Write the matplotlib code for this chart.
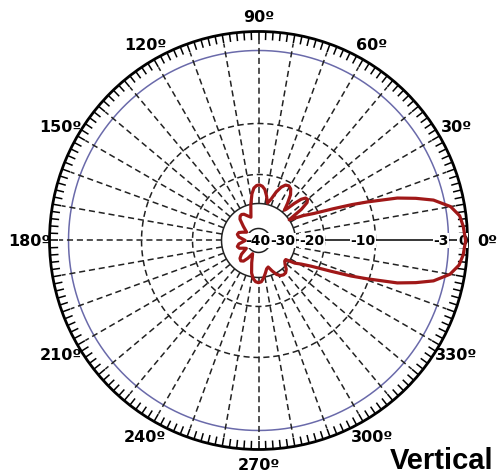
import matplotlib
matplotlib.use("Agg")
import matplotlib.pyplot as plt
import numpy as np

# radial scale of the chart: dB value -> radius (pixels on the original)
RING_DB = [-45, -40, -30, -20, -10, -3, 0, 5]
RING_R = [0, 12, 37, 66, 117, 190, 209, 240]

RTICKS = [-40, -30, -20, -10, -3, 0]
RLABELS = ["-40", "-30", "-20", "-10", "-3", "0"]

ANGLE_TICKS = list(range(0, 360, 30))
ANGLE_LABELS = [f"{a}º" for a in ANGLE_TICKS]

# vertical radiation pattern (degrees, dB)
pattern_deg = [0, 4, 7, 10, 13, 15, 17, 19.5, 21, 23, 26, 29, 32, 34,
               36, 38, 40, 42, 44, 46, 48, 49.5,
               52, 55, 58, 61, 64, 67, 70, 73, 76.5,
               80, 83, 86, 89, 92, 95, 98, 102, 108,
               114, 119, 123, 127, 131, 137, 145,
               153, 158, 164, 170, 175, 180,
               185, 190, 196, 202, 207, 213,
               219, 224, 229, 234, 239, 246,
               253, 258, 262, 266, 270, 274, 278, 282, 286, 290,
               294, 298, 302, 306, 310, 314, 318, 322, 325,
               328, 331, 334, 337, 339, 340.5, 343, 345, 347, 350, 353, 356, 360]
pattern_db = [-0.3, -0.6, -1.0, -2.2, -4.0, -5.6, -7.3, -10.3, -13.3, -17.0, -21.5, -25.0, -28.5, -30.0,
              -24.5, -21.5, -20.7, -20.9, -22.3, -25.0, -28.0, -29.0,
              -26.5, -23.5, -21.8, -21.2, -21.5, -22.8, -25.0, -27.8, -29.5,
              -27.0, -25.0, -24.0, -23.6, -23.8, -24.6, -26.5, -30.0, -35.0,
              -34.0, -32.8, -32.4, -32.6, -33.5, -36.5, -39.0,
              -37.5, -36.3, -36.0, -36.8, -38.5, -39.5,
              -38.5, -36.8, -36.0, -36.5, -38.0, -39.0,
              -36.0, -34.5, -34.0, -34.6, -36.5, -39.0,
              -35.5, -31.5, -29.5, -28.5, -28.2, -28.5, -29.8, -31.5, -33.0, -33.5,
              -31.5, -29.5, -28.5, -28.1, -28.2, -29.0, -30.5, -31.5, -31.5,
              -28.0, -26.0, -22.5, -17.5, -13.5, -10.5, -7.3, -5.6, -4.0, -2.3, -1.1, -0.6, -0.3]


def to_r(db):
    return np.interp(db, RING_DB, RING_R)


def to_db(r):
    return np.interp(r, RING_R, RING_DB)


fig = plt.figure(figsize=(4.98, 4.77), dpi=100)
ax = fig.add_axes([0.0994, 0.0556, 0.8394, 0.8763], projection="polar")
ax.set_rscale("function", functions=(to_r, to_db))
ax.set_rlim(-45, 0)
ax.grid(False)
ax.set_yticks([])
ax.set_xticks([])
ax.spines["polar"].set_linewidth(2)

# tick marks every 2 degrees on the inside of the rim
for a in range(0, 360, 2):
    ax.plot([np.radians(a)] * 2, [to_db(200.5), 0], color="black", lw=1.1,
            solid_capstyle="butt")

# angle labels, a bit farther out where the text is wide
for a, lab in zip(ANGLE_TICKS, ANGLE_LABELS):
    rpix = 224 + 5 * abs(np.cos(np.radians(a)))
    ax.text(np.radians(a), to_db(rpix), lab, ha="center", va="center",
            fontsize=11.5, fontweight="bold", clip_on=False)

full = np.linspace(0, 2 * np.pi, 361)
dash = (0, (4, 2.5))
ax.plot(full, np.full(361, -40.0), color="#222222", lw=1.1)
ax.plot(full, np.full(361, -30.0), color="#222222", lw=1.1)
ax.plot(full, np.full(361, -20.0), color="#222222", lw=1.1, ls=dash)
ax.plot(full, np.full(361, -10.0), color="#222222", lw=1.1, ls=dash)
ax.plot(full, np.full(361, -3.0), color="#6a6aaa", lw=1.1)

for a in range(10, 360, 10):
    ax.plot([np.radians(a)] * 2, [-30, to_db(200)], color="#222222", lw=1.1, ls=dash)
ax.plot([0, 0], [-40, 0], color="black", lw=1.1)

for db, lab in zip(RTICKS, RLABELS):
    ax.text(0, db, lab, ha="right", va="center", fontsize=10, fontweight="bold",
            bbox=dict(fc="white", ec="none", pad=0.3), zorder=3)

ax.plot(np.radians(pattern_deg), pattern_db, color="#a01818", lw=2.3, zorder=4,
        solid_joinstyle="round")

fig.text(0.99, 0.016, "Vertical", ha="right", va="baseline", fontsize=21,
         fontweight="bold", family="Liberation Sans")

fig.savefig("out.png", dpi=100)
